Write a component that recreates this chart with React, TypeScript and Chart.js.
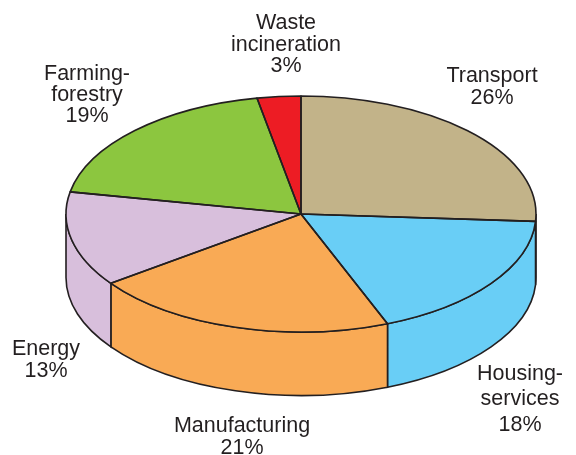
import React, { useEffect, useRef } from "react";
import { Chart, registerables } from "chart.js";

Chart.register(...registerables);

const categories = ["Transport", "Housing-services", "Manufacturing", "Energy", "Farming-forestry", "Waste incineration"];
const shares = [26, 18, 21, 13, 19, 3];
const sliceColors = ["#c2b389", "#69cef6", "#f9aa55", "#d8bfdc", "#8cc63f", "#ed1c24"];
const labelLines = [
  ["Transport", "26%"],
  ["Housing-", "services", "18%"],
  ["Manufacturing", "21%"],
  ["Energy", "13%"],
  ["Farming-", "forestry", "19%"],
  ["Waste", "incineration", "3%"],
];
const labelX = [492, 520, 242, 46, 87, 286];
const labelY = [
  [76, 98],
  [374, 399, 425],
  [426, 448],
  [349, 371],
  [74, 95, 116],
  [23, 45, 66],
];

const SQUASH = 118 / 235;
const DEPTH = 63.5;
const INK = "#231f20";

const pie3d = {
  id: "pie3d",
  beforeDatasetsDraw(chart: any) {
    const { ctx } = chart;
    const arcs = chart.getDatasetMeta(0).data;
    const { x: cx, y: cy, outerRadius: r } = arcs[0];
    const ry = r * SQUASH;
    // side wall: only the part of each slice's rim that faces the viewer (0..PI in canvas angle)
    ctx.save();
    ctx.lineWidth = 1.6;
    ctx.strokeStyle = INK;
    arcs.forEach((arc: any, i: number) => {
      const a0 = Math.max(arc.startAngle, 0);
      const a1 = Math.min(arc.endAngle, Math.PI);
      if (a1 <= a0) return;
      ctx.beginPath();
      ctx.ellipse(cx, cy, r, ry, 0, a0, a1);
      ctx.ellipse(cx, cy + DEPTH, r, ry, 0, a1, a0, true);
      ctx.closePath();
      ctx.fillStyle = sliceColors[i];
      ctx.fill();
      ctx.stroke();
    });
    ctx.restore();
    // flatten the library's own slices into the top face
    ctx.save();
    ctx.translate(cx, cy);
    ctx.scale(1, SQUASH);
    ctx.translate(-cx, -cy);
  },
  afterDatasetsDraw(chart: any) {
    const { ctx } = chart;
    ctx.restore();
    const arcs = chart.getDatasetMeta(0).data;
    const { x: cx, y: cy, outerRadius: r } = arcs[0];
    const ry = r * SQUASH;
    ctx.save();
    ctx.lineWidth = 1.6;
    ctx.strokeStyle = INK;
    ctx.lineJoin = "round";
    arcs.forEach((arc: any) => {
      ctx.beginPath();
      ctx.moveTo(cx, cy);
      ctx.ellipse(cx, cy, r, ry, 0, arc.startAngle, arc.endAngle);
      ctx.closePath();
      ctx.stroke();
    });
    ctx.fillStyle = INK;
    ctx.font = '21.5px "Liberation Sans"';
    ctx.textAlign = "center";
    ctx.textBaseline = "middle";
    labelLines.forEach((lines, i) => {
      lines.forEach((line, j) => ctx.fillText(line, labelX[i], labelY[i][j]));
    });
    ctx.restore();
  },
};

export default function App() {
  const ref = useRef<HTMLCanvasElement>(null);
  useEffect(() => {
    const chart = new Chart(ref.current!, {
      type: "pie",
      data: {
        labels: categories,
        datasets: [
          {
            data: shares,
            backgroundColor: sliceColors,
            borderWidth: 0,
            radius: 235,
            clip: false,
          } as any,
        ],
      },
      options: {
        animation: false,
        responsive: false,
        layout: { padding: { left: 66, right: 40, top: 0, bottom: 27 } },
        plugins: { legend: { display: false }, tooltip: { enabled: false } },
      },
      plugins: [pie3d],
    });
    return () => chart.destroy();
  }, []);
  return (
    <div style={{ position: "absolute", left: 0, top: 0, background: "#fff" }}>
      <canvas ref={ref} width={576} height={455} style={{ display: "block" }} />
    </div>
  );
}
